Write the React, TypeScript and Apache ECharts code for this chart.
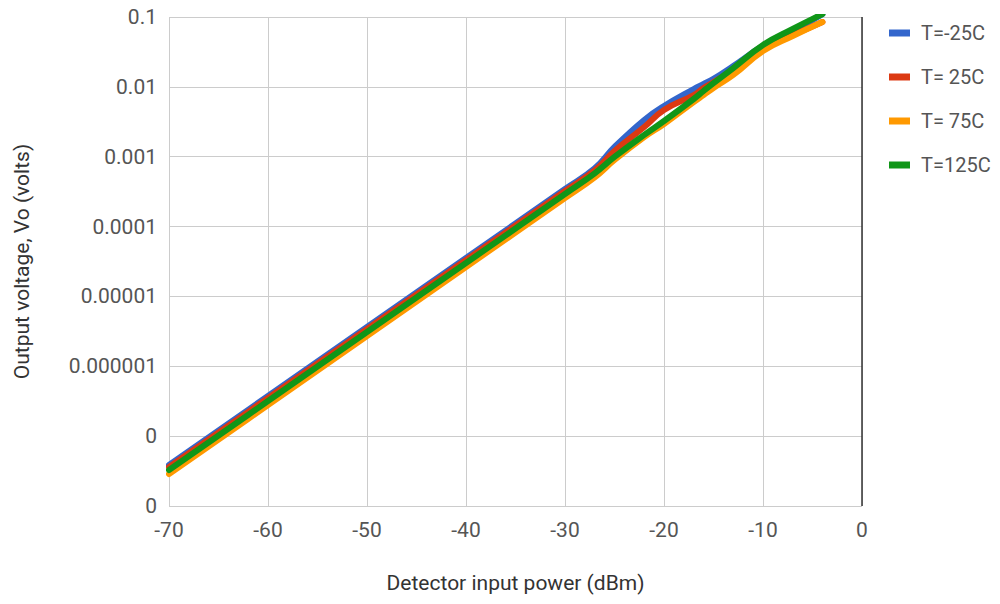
import React, { useEffect, useRef } from "react";
import * as echarts from "echarts";

const powerDbm = [-70, -60, -50, -40, -30, -27, -25, -22, -20, -17, -16, -15, -13, -10, -7, -4];

const tMinus25 = [3.86e-8, 3.76e-7, 3.66e-6, 3.55e-5, 3.45e-4, 6.82e-4, 1.38e-3, 3.36e-3, 5.32e-3, 9.31e-3, 1.1e-2, 1.3e-2, 1.99e-2, 3.85e-2, 6.3e-2, 0.11];
const t25 = [3.62e-8, 3.52e-7, 3.42e-6, 3.32e-5, 3.23e-4, 6.4e-4, 1.21e-3, 2.66e-3, 4.67e-3, 7.64e-3, 9.64e-3, 1.17e-2, 1.74e-2, 3.6e-2, 5.52e-2, 8.48e-2];
const t75 = [2.87e-8, 2.79e-7, 2.72e-6, 2.64e-5, 2.56e-4, 5.07e-4, 8.97e-4, 1.91e-3, 2.94e-3, 6.07e-3, 7.64e-3, 9.64e-3, 1.48e-2, 3.26e-2, 5.35e-2, 8.48e-2];
const t125 = [3.28e-8, 3.18e-7, 3.1e-6, 3.01e-5, 2.92e-4, 5.79e-4, 9.91e-4, 2.05e-3, 3.24e-3, 6.7e-3, 8.73e-3, 1.13e-2, 1.86e-2, 3.97e-2, 6.73e-2, 0.11];

const seriesNames = ["T=-25C", "T= 25C", "T= 75C", "T=125C"];
const seriesColors = ["#3366cc", "#dc3912", "#ff9900", "#109618"];
const seriesValues = [tMinus25, t25, t75, t125];

// tick labels for exponents -8 .. -1
const yTickLabels = ["0", "0", "0.000001", "0.00001", "0.0001", "0.001", "0.01", "0.1"];

export default function App() {
  const ref = useRef<HTMLDivElement>(null);
  useEffect(() => {
    if (!ref.current) return;
    const chart = echarts.init(ref.current, null, { renderer: "svg" });
    const font = "Roboto, Arial, sans-serif";
    chart.setOption({
      animation: false,
      textStyle: { fontFamily: font },
      grid: { left: 169, right: 138, top: 17, bottom: 98, containLabel: false },
      legend: {
        orient: "vertical",
        left: 884,
        top: 18,
        icon: "rect",
        itemWidth: 21,
        itemHeight: 7,
        itemGap: 24,
        textStyle: { color: "#555", fontSize: 20, fontFamily: font, lineHeight: 17, padding: [0, 0, 0, 6] },
        data: seriesNames,
      },
      xAxis: {
        type: "value",
        min: -70,
        max: 0,
        interval: 10,
        name: "Detector input power (dBm)",
        nameLocation: "middle",
        nameGap: 66,
        nameTextStyle: { color: "#333", fontSize: 21, fontFamily: font },
        axisLine: { show: false },
        axisTick: { show: false },
        axisLabel: { color: "#555", fontSize: 21, margin: 13, fontFamily: font },
        splitLine: { show: true, lineStyle: { color: "#cccccc", width: 1 } },
      },
      yAxis: {
        type: "log",
        logBase: 10,
        min: 1e-8,
        max: 0.1,
        splitNumber: 7,
        name: "Output voltage, Vo (volts)",
        nameLocation: "middle",
        nameGap: 137,
        nameTextStyle: { color: "#333", fontSize: 21, fontFamily: font },
        axisLine: { show: false },
        axisTick: { show: false },
        minorTick: { show: false },
        axisLabel: {
          color: "#555",
          fontSize: 21,
          margin: 12,
          fontFamily: font,
          formatter: (v: number) => {
            const e = Math.round(Math.log10(v));
            return yTickLabels[e + 8] ?? "";
          },
        },
        splitLine: { show: true, lineStyle: { color: "#cccccc", width: 1 } },
      },
      series: seriesNames.map((name, i) => ({
        name,
        type: "line",
        data: powerDbm.map((x, j) => [x, seriesValues[i][j]]),
        smooth: 0.45,
        showSymbol: false,
        symbol: "none",
        clip: true,
        lineStyle: { color: seriesColors[i], width: 6, join: "round", cap: "round" },
        itemStyle: { color: seriesColors[i] },
        ...(i === 0
          ? {
              markLine: {
                silent: true,
                symbol: "none",
                label: { show: false },
                lineStyle: { color: "#333", width: 1.5, type: "solid" },
                data: [{ xAxis: 0 }],
              },
            }
          : {}),
      })),
    });
    return () => chart.dispose();
  }, []);
  return <div ref={ref} style={{ width: 1000, height: 604, margin: -8 }} />;
}
